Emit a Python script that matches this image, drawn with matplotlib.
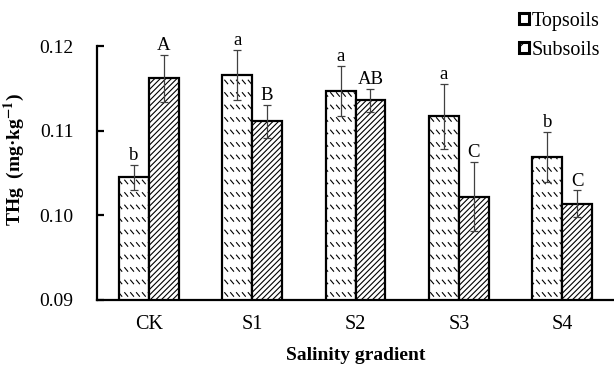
import matplotlib
matplotlib.use('Agg')
from matplotlib import pyplot as plt
from matplotlib import hatch as mhatch
from matplotlib.path import Path
from matplotlib.patches import Patch
import numpy as np

groups = ['CK', 'S1', 'S2', 'S3', 'S4']
top_vals = [0.1045, 0.1166, 0.1147, 0.1117, 0.1069]
top_errs = [0.0015, 0.0030, 0.0030, 0.0038, 0.0030]
top_letters = ['b', 'a', 'a', 'a', 'b']
sub_vals = [0.1162, 0.1111, 0.1136, 0.1022, 0.1014]
sub_errs = [0.0028, 0.0020, 0.00135, 0.0041, 0.00155]
sub_letters = ['A', 'B', 'AB', 'C', 'C']
yticks = [0.09, 0.10, 0.11, 0.12]


class DashRows(mhatch.HatchPatternBase):
    # rows of short backslash dashes, used for the 'O' hatch character
    def __init__(self, hatch, density):
        self.rows = 8 if 'O' in hatch else 0
        self.cols = 17
        self.num_vertices = self.rows * self.cols * 2

    def set_vertices_and_codes(self, vertices, codes):
        k = 0
        dw, dh = 0.03, 0.036
        for i in range(self.rows):
            y0 = (i + 0.3) / self.rows
            for j in range(self.cols):
                x0 = (j + 0.2) / self.cols
                vertices[k] = (x0, y0 + dh)
                vertices[k + 1] = (x0 + dw, y0)
                codes[k] = Path.MOVETO
                codes[k + 1] = Path.LINETO
                k += 2


mhatch._hatch_types = [t for t in mhatch._hatch_types
                       if t is not mhatch.LargeCircles] + [DashRows]

plt.rcParams['font.family'] = ['Liberation Serif', 'DejaVu Serif']
plt.rcParams['mathtext.fontset'] = 'stix'
plt.rcParams['hatch.linewidth'] = 0.8

fig = plt.figure(figsize=(6.14, 3.69), dpi=100)
ax = fig.add_axes([0.158, 0.187, 0.842, 0.688])

x = np.arange(len(groups))
w = 0.29
ax.bar(x - w / 2, top_vals, w, color='white', edgecolor='black',
       linewidth=1.6, hatch='O', zorder=2)
ax.bar(x + w / 2, sub_vals, w, color='white', edgecolor='black',
       linewidth=1.6, hatch='//////', zorder=2)
ax.errorbar(x - w / 2, top_vals, yerr=top_errs, fmt='none', ecolor='#404040',
            elinewidth=0.9, capsize=3, capthick=0.9, zorder=3)
ax.errorbar(x + w / 2, sub_vals, yerr=sub_errs, fmt='none', ecolor='#404040',
            elinewidth=0.9, capsize=3, capthick=0.9, zorder=3)

for i in range(len(groups)):
    ax.text(x[i] - w / 2, top_vals[i] + top_errs[i] + 0.0001, top_letters[i],
            ha='center', va='bottom', fontsize=13.5)
    ax.text(x[i] + w / 2, sub_vals[i] + sub_errs[i] + 0.0001, sub_letters[i],
            ha='center', va='bottom', fontsize=13.5)

ax.set_xlim(-0.5, 4.5)
ax.set_ylim(0.09, 0.12)
ax.set_yticks(yticks)
ax.set_yticklabels(['%.2f' % v for v in yticks])
ax.set_xticks(x)
ax.set_xticklabels(groups)
ax.tick_params(axis='y', direction='in', length=5, width=1.6, pad=17,
               labelsize=14)
ax.tick_params(axis='x', length=0, pad=11, labelsize=14.5)
for s in ['top', 'right']:
    ax.spines[s].set_visible(False)
for s in ['left', 'bottom']:
    ax.spines[s].set_linewidth(1.6)

ax.set_xlabel('Salinity gradient', fontsize=14, fontweight='bold', labelpad=9)
ax.set_ylabel(r'THg  (mg·kg$^{\mathbf{-1}}$)', fontsize=14,
              fontweight='bold')
ax.yaxis.set_label_coords(-0.135, 0.555)

handles = [Patch(facecolor='white', edgecolor='black', linewidth=2.2),
           Patch(facecolor='white', edgecolor='black', linewidth=2.2,
                 hatch='//')]
fig.legend(handles, ['Topsoils', 'Subsoils'], loc='upper right',
           bbox_to_anchor=(0.99, 0.99), frameon=False, fontsize=14.5,
           handlelength=0.5, handleheight=0.5, handletextpad=0.1,
           labelspacing=0.5, borderaxespad=0.0)

fig.savefig('out.png', dpi=100)
